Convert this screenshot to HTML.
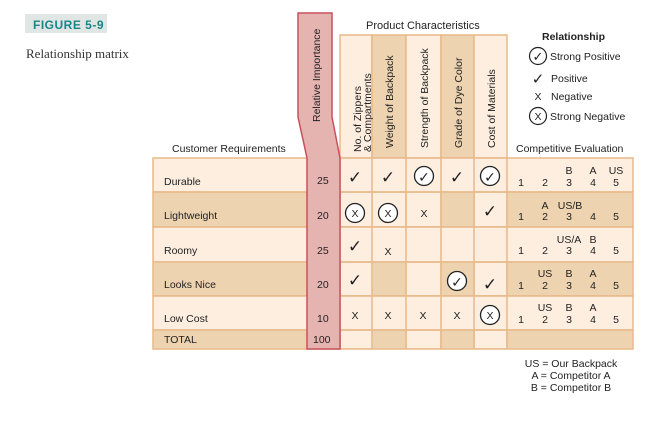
<!DOCTYPE html>
<html><head><meta charset="utf-8"><style>
html,body{margin:0;padding:0;background:#fff;width:660px;height:438px;overflow:hidden}
svg{display:block}
text{font-family:"Liberation Sans",sans-serif;fill:#222}
.ck{font-family:"DejaVu Sans",sans-serif;font-weight:bold}
</style></head><body>
<svg width="660" height="438" viewBox="0 0 660 438" xmlns="http://www.w3.org/2000/svg">
<rect x="25" y="14" width="82" height="19" fill="#e0e6e3"/>
<text x="33" y="29" font-size="12" font-weight="bold" style="fill:#17868a" letter-spacing="0.5">FIGURE 5-9</text>
<text x="26" y="58" font-size="13" style="font-family:'Liberation Serif',serif;fill:#333">Relationship matrix</text>

<g stroke="#e8b98a" stroke-width="1.5">
<rect x="340" y="35" width="32" height="123" fill="#fdeee0"/>
<rect x="372" y="35" width="34" height="123" fill="#edd3b0"/>
<rect x="406" y="35" width="35" height="123" fill="#fdeee0"/>
<rect x="441" y="35" width="33" height="123" fill="#edd3b0"/>
<rect x="474" y="35" width="33" height="123" fill="#fdeee0"/>
</g>
<g font-size="10.5">
<text transform="translate(361,152) rotate(-90)">No. of Zippers</text>
<text transform="translate(371,152) rotate(-90)">&amp; Compartments</text>
<text transform="translate(393,148) rotate(-90)">Weight of Backpack</text>
<text transform="translate(428,148) rotate(-90)">Strength of Backpack</text>
<text transform="translate(462,148) rotate(-90)">Grade of Dye Color</text>
<text transform="translate(495,148) rotate(-90)">Cost of Materials</text>
</g>
<text x="366" y="29" font-size="11">Product Characteristics</text>
<text x="172" y="152" font-size="10.5">Customer Requirements</text>

<g stroke="#e8b98a" stroke-width="1.5">
<rect x="153" y="158" width="480" height="34" fill="#fdeee0"/>
<rect x="153" y="192" width="480" height="35" fill="#edd3b0"/>
<rect x="153" y="227" width="480" height="35" fill="#fdeee0"/>
<rect x="153" y="262" width="480" height="34" fill="#edd3b0"/>
<rect x="153" y="296" width="480" height="34" fill="#fdeee0"/>
<rect x="153" y="330" width="480" height="19" fill="#edd3b0"/>
</g>
<g fill="#fdeee0">
<rect x="341" y="193" width="31" height="33"/><rect x="373" y="193" width="32" height="33"/><rect x="407" y="193" width="33" height="33"/><rect x="475" y="193" width="31" height="33"/>
<rect x="341" y="263" width="31" height="32"/><rect x="407" y="263" width="33" height="32"/><rect x="475" y="263" width="31" height="32"/>
<rect x="341" y="331" width="31" height="17"/><rect x="407" y="331" width="33" height="17"/><rect x="475" y="331" width="31" height="17"/>
</g>
<g stroke="#e8b98a" stroke-width="1.5">
<line x1="340" y1="158" x2="340" y2="349"/><line x1="372" y1="158" x2="372" y2="349"/>
<line x1="406" y1="158" x2="406" y2="349"/><line x1="441" y1="158" x2="441" y2="349"/>
<line x1="474" y1="158" x2="474" y2="349"/><line x1="507" y1="158" x2="507" y2="349"/>
</g>

<path d="M298,13 L332,13 L332,117 L340,158 L340,349 L307,349 L307,158 L298,117 Z" fill="#e6b4b0" stroke="#c9505a" stroke-width="1.5"/>
<text transform="translate(320,122) rotate(-90)" font-size="10.5">Relative Importance</text>

<g font-size="10.5">
<text x="164" y="185">Durable</text>
<text x="164" y="219">Lightweight</text>
<text x="164" y="254">Roomy</text>
<text x="164" y="288">Looks Nice</text>
<text x="164" y="322">Low Cost</text>
<text x="164" y="343">TOTAL</text>
<text x="317" y="184">25</text>
<text x="317" y="219">20</text>
<text x="317" y="254">25</text>
<text x="317" y="288">20</text>
<text x="317" y="322">10</text>
<text x="313" y="343">100</text>
</g>

<g font-size="17" text-anchor="middle" class="ck">
<text class="ck" x="355" y="183">✓</text><text class="ck" x="388" y="183">✓</text><text class="ck" x="457" y="183">✓</text>
<text class="ck" x="490" y="217">✓</text>
<text class="ck" x="355" y="252">✓</text>
<text class="ck" x="355" y="286">✓</text><text class="ck" x="490" y="290">✓</text>
</g>
<g fill="#fff" stroke="#222" stroke-width="1.3">
<circle cx="424" cy="176" r="9.5"/><circle cx="490" cy="176" r="9.5"/>
<circle cx="457" cy="281" r="9.5"/>
<circle cx="355" cy="213" r="9.5"/><circle cx="388" cy="213" r="9.5"/>
<circle cx="490" cy="315" r="9.5"/>
</g>
<g font-size="14" text-anchor="middle">
<text class="ck" x="424" y="182">✓</text><text class="ck" x="490" y="182">✓</text><text class="ck" x="457" y="287">✓</text>
</g>
<g font-size="10.5" text-anchor="middle">
<text x="355" y="217">X</text><text x="388" y="217">X</text><text x="424" y="217">X</text>
<text x="388" y="255">X</text>
<text x="355" y="319">X</text><text x="388" y="319">X</text><text x="423" y="319">X</text><text x="457" y="319">X</text><text x="490" y="319">X</text>
</g>

<g font-size="10.5" text-anchor="middle">
<text x="521" y="186">1</text><text x="545" y="186">2</text><text x="569" y="186">3</text><text x="593" y="186">4</text><text x="616" y="186">5</text>
<text x="569" y="174">B</text><text x="593" y="174">A</text><text x="616" y="174">US</text>
<text x="521" y="220">1</text><text x="545" y="220">2</text><text x="569" y="220">3</text><text x="593" y="220">4</text><text x="616" y="220">5</text>
<text x="545" y="209">A</text><text x="570" y="209">US/B</text>
<text x="521" y="254">1</text><text x="545" y="254">2</text><text x="569" y="254">3</text><text x="593" y="254">4</text><text x="616" y="254">5</text>
<text x="569" y="243">US/A</text><text x="593" y="243">B</text>
<text x="521" y="289">1</text><text x="545" y="289">2</text><text x="569" y="289">3</text><text x="593" y="289">4</text><text x="616" y="289">5</text>
<text x="545" y="277">US</text><text x="569" y="277">B</text><text x="593" y="277">A</text>
<text x="521" y="323">1</text><text x="545" y="323">2</text><text x="569" y="323">3</text><text x="593" y="323">4</text><text x="616" y="323">5</text>
<text x="545" y="311">US</text><text x="569" y="311">B</text><text x="593" y="311">A</text>
</g>
<text x="516" y="152" font-size="10.5">Competitive Evaluation</text>

<text x="542" y="40" font-size="10.5" font-weight="bold">Relationship</text>
<circle cx="538" cy="56" r="8.5" fill="#fff" stroke="#222" stroke-width="1.2"/>
<text class="ck" x="538" y="61" font-size="13" text-anchor="middle">✓</text>
<text x="550" y="60" font-size="10.5">Strong Positive</text>
<text class="ck" x="538" y="84" font-size="15" text-anchor="middle">✓</text>
<text x="551" y="82" font-size="10.5">Positive</text>
<text x="538" y="100" font-size="10.5" text-anchor="middle">X</text>
<text x="551" y="100" font-size="10.5">Negative</text>
<circle cx="538" cy="116" r="8.5" fill="#fff" stroke="#222" stroke-width="1.2"/>
<text x="538" y="120" font-size="10.5" text-anchor="middle">X</text>
<text x="550" y="120" font-size="10.5">Strong Negative</text>

<g font-size="10.5" text-anchor="middle">
<text x="571" y="367">US = Our Backpack</text>
<text x="571" y="379">A = Competitor A</text>
<text x="571" y="391">B = Competitor B</text>
</g>
</svg>
</body></html>
